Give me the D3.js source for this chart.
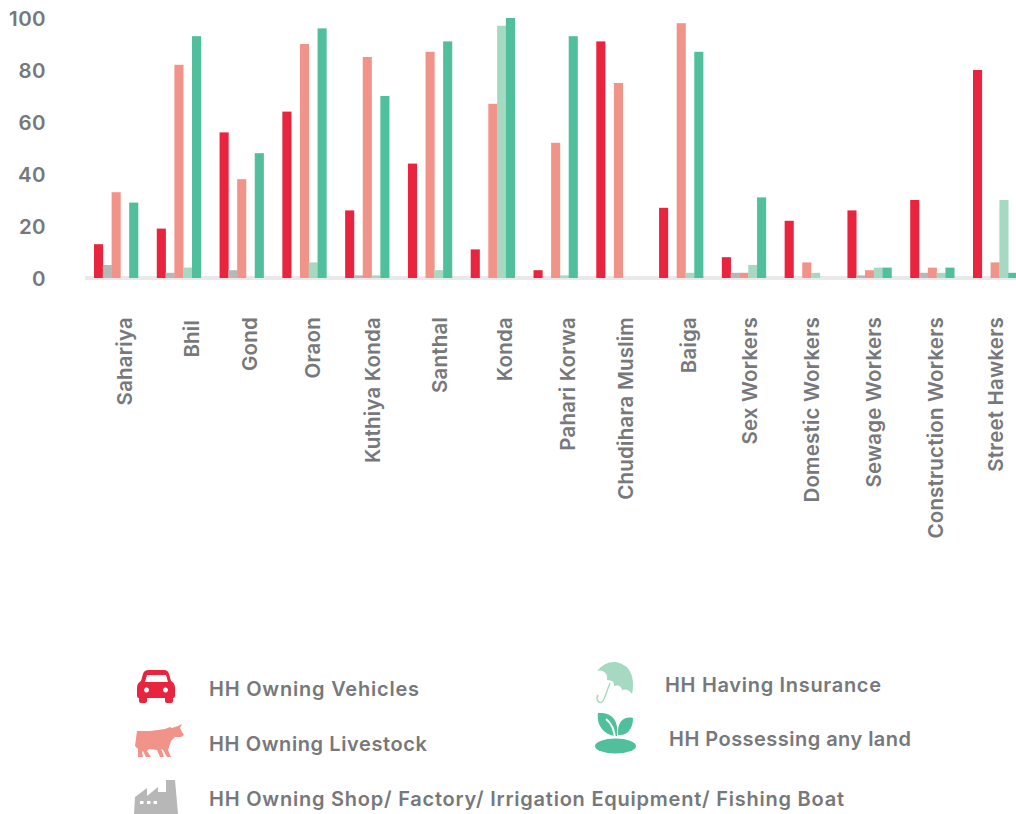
<!DOCTYPE html>
<html><head><meta charset="utf-8">
<script src="https://cdnjs.cloudflare.com/ajax/libs/d3/7.8.5/d3.min.js"></script>
<style>
html,body{margin:0;padding:0;background:#fff}
svg{display:block}
text{font-family:Inter,"Open Sans",sans-serif;fill:#77787b;font-weight:600}
</style></head><body>
<svg id="c" width="1016" height="814"></svg>
<script>
const categories=["Sahariya","Bhil","Gond","Oraon","Kuthiya Konda","Santhal","Konda","Pahari Korwa","Chudihara Muslim","Baiga","Sex Workers","Domestic Workers","Sewage Workers","Construction Workers","Street Hawkers"];
const vehicles=[13,19,56,64,26,44,11,3,91,27,8,22,26,30,80];
const shop=[5,2,3,0,1,0,0,0,0,0,2,0,1,2,0];
const livestock=[33,82,38,90,85,87,67,52,75,98,2,6,3,4,6];
const insurance=[0,4,0,6,1,3,97,1,0,2,5,2,4,2,30];
const land=[29,93,48,96,70,91,100,93,0,87,31,0,4,4,2];
const yTicks=[0,20,40,60,80,100];
const seriesNames=["HH Owning Vehicles","HH Owning Shop/ Factory/ Irrigation Equipment/ Fishing Boat","HH Owning Livestock","HH Having Insurance","HH Possessing any land"];
const seriesValues=[vehicles,shop,livestock,insurance,land];
const seriesColors=["#e8243f","#b7b7b7","#f2938a","#a5d9c2","#4fbf9c"];

const svg=d3.select("#c");
const y=d3.scaleLinear().domain([0,100]).range([278,18]);
const x=d3.scalePoint().domain(categories).range([94,973]);
const sub=d3.scaleBand().domain(d3.range(5)).range([0,44]);
// layout nudges: where each rotated label's baseline sits relative to its group
const labelShift=[37.7,41.9,37.9,37.6,34.4,38.6,41.3,41.5,37.2,36.6,35.6,34.4,33.6,32.8,30];
const labelTop=c=>c==="Bhil"?320:317;

svg.append("rect").attr("x",85).attr("y",276).attr("width",931).attr("height",4).attr("fill","#e9e9e9");

seriesValues.forEach((vals,s)=>{
  svg.append("g").selectAll("rect").data(vals).join("rect")
    .attr("x",(d,i)=>x(categories[i])+sub(s))
    .attr("width",sub.bandwidth()+0.3)
    .attr("y",d=>y(d))
    .attr("height",d=>y(0)-y(d))
    .attr("fill",seriesColors[s]);
});

const yAxis=d3.axisLeft(y).tickValues(yTicks).tickSize(0).tickPadding(0);
const gy=svg.append("g").attr("transform","translate(46,0)").call(yAxis);
gy.select(".domain").remove();
gy.selectAll("text").style("font-size","20.5px").style("letter-spacing","0.4px").attr("dy","0.36em");

const xAxis=d3.axisBottom(x).tickSize(0);
const gx=svg.append("g").call(xAxis);
gx.select(".domain").remove();
gx.selectAll(".tick").attr("transform",(d,i)=>`translate(${x(d)+labelShift[i]},${labelTop(d)}) rotate(-90)`);
gx.selectAll("text").attr("x",0).attr("y",0).attr("dy",0).attr("text-anchor","end").style("font-size","20.5px").style("letter-spacing","0.2px");

const legendPos=[[209,696],[209,806],[209,751],[665,692],[669,746]];
const legendWidth=[210,635,218,216,242];
svg.append("g").selectAll("text").data(seriesNames).join("text")
  .attr("x",(d,i)=>legendPos[i][0]).attr("y",(d,i)=>legendPos[i][1])
  .attr("textLength",(d,i)=>legendWidth[i]).attr("lengthAdjust","spacing")
  .style("font-size","20px").text(d=>d);

// icons
svg.append("path").attr("fill",seriesColors[0]).attr("fill-rule","evenodd").attr("d","M149 670H164Q168 670 169 674L171 681Q175 683 175 688V696Q175 698 173 698V701Q173 703 171 703H167Q165 703 165 701V698H147V701Q147 703 145 703H141Q139 703 139 701V698Q137 698 137 696V688Q137 683 141 681L143 674Q144 670 149 670ZM147 675L145 682H168L166 675ZM146.500 687.500a2.500 2.500 0 1 0 .01 0ZM165.500 687.500a2.500 2.500 0 1 0 .01 0Z");
svg.append("path").attr("fill",seriesColors[2]).attr("d","M137 731L150 731L165 729L170 727L172 728L178 726L182 724L180 728L182 732L184 735L181 737L175 737L171 741L169 747L168 750L171 757L167 757L163 750L161 749L162 751L164 757L160 757L157 750L149 749L147 751L151 757L146 757L143 751L142 752L143 757L138 757L138 749L135 746Z");
svg.append("path").attr("fill",seriesColors[1]).attr("fill-rule","evenodd").attr("d","M134 814L135 797L147 788V796L158 787V792H166V780H175L178 814ZM140 801H143.500V804H140ZM147 801H150.500V804H147ZM153.500 801H157V804H153.500Z");
svg.append("path").attr("fill",seriesColors[3]).attr("d","M597 671Q605 661 616 662Q628 664 632 676Q634 685 632 694Q628 688 622 690Q621 684 614 686Q615 680 607 680Q608 674 603 671Q600 670 597 671Z");
svg.append("path").attr("fill","none").attr("stroke",seriesColors[3]).attr("stroke-width",1.4).attr("d","M610 683L604 699Q601 705 598 701Q596 698 598 695");
svg.append("path").attr("fill",seriesColors[4]).attr("d","M598 713C610 712 619 718 617 736C607 736 596 728 598 713Z");
svg.append("path").attr("fill",seriesColors[4]).attr("d","M633 718C625 716 617 720 618 735C628 736 633 728 633 718Z");
svg.append("path").attr("fill","none").attr("stroke","#fff").attr("stroke-width",2).attr("d","M606 719Q615 726 615 741");
svg.append("ellipse").attr("cx",615.500).attr("cy",746).attr("rx",20.500).attr("ry",7.500).attr("fill",seriesColors[4]);
</script></body></html>
